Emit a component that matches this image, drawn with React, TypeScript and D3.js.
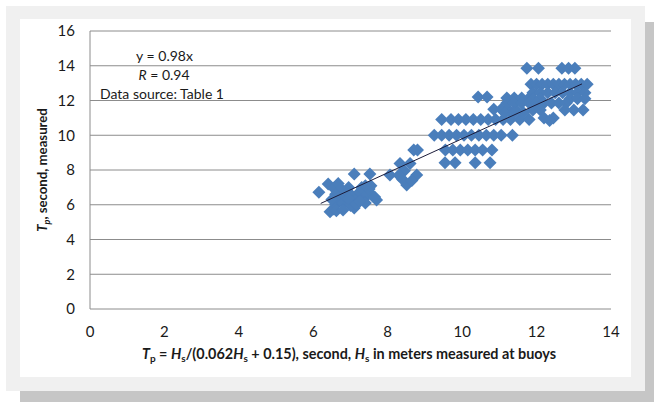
import React from "react";
import * as d3 from "d3";

const xTicks = [0, 2, 4, 6, 8, 10, 12, 14];
const yTicks = [0, 2, 4, 6, 8, 10, 12, 14, 16];

// lower cluster
const clusterA: [number, number][] = [
  [6.15, 6.72], [6.4, 7.2], [6.55, 6.95], [6.67, 7.23], [6.45, 5.6], [6.55, 5.75],
  [6.6, 6.0], [6.7, 6.3], [6.8, 6.1], [6.85, 6.5], [6.9, 6.8], [6.75, 6.9],
  [6.95, 7.0], [7.0, 6.6], [7.05, 6.2], [7.1, 5.81], [7.0, 5.95], [7.15, 6.05],
  [7.2, 6.4], [7.25, 6.75], [7.3, 7.0], [7.1, 7.77], [7.52, 7.77], [7.35, 6.3],
  [7.45, 6.6], [7.5, 6.9], [7.55, 7.1], [7.6, 6.5], [7.7, 6.27], [7.65, 6.45],
  [7.4, 6.1], [6.6, 6.6], [6.5, 6.3], [6.62, 5.65], [6.8, 5.7], [6.95, 6.35],
  [7.25, 6.2], [7.4, 7.1],
];

// cluster around 8-9 s
const clusterB: [number, number][] = [
  [8.06, 7.71], [8.33, 8.38], [8.45, 7.95], [8.51, 7.14], [8.6, 8.38],
  [8.7, 9.15], [8.8, 9.15], [8.78, 7.71], [8.3, 7.7], [8.4, 7.45], [8.65, 7.4],
];

// middle rows
const clusterC: [number, number][] = [
  [9.54, 8.42], [9.81, 8.42], [10.35, 8.42], [10.75, 8.42],
  [9.55, 9.15], [9.75, 9.15], [9.95, 9.15], [10.15, 9.15], [10.35, 9.15], [10.55, 9.15], [10.8, 9.15],
  [9.25, 10.0], [9.45, 10.0], [9.65, 10.0], [9.85, 10.0], [10.05, 10.0], [10.25, 10.0],
  [10.45, 10.0], [10.65, 10.0], [10.85, 10.0], [11.05, 10.0], [11.35, 10.0],
  [9.45, 10.9], [9.7, 10.9], [9.9, 10.9], [10.1, 10.9], [10.3, 10.9], [10.5, 10.9],
  [10.7, 10.9], [10.9, 10.9], [11.1, 10.9], [11.3, 10.9], [11.55, 10.9], [11.8, 10.9],
  [10.85, 11.5], [11.05, 11.5], [11.25, 11.45], [11.45, 11.45],
  [10.43, 12.2], [10.67, 12.2], [11.2, 12.15], [11.4, 12.15], [11.6, 12.15], [11.8, 12.15],
];

// upper cluster
const clusterD: [number, number][] = [
  [11.74, 13.85], [12.05, 13.85], [12.68, 13.85], [12.86, 13.85], [13.03, 13.85],
  [11.85, 12.93], [12.0, 12.93], [12.15, 12.93], [12.3, 12.93], [12.45, 12.93], [12.6, 12.93],
  [12.75, 12.93], [12.9, 12.93], [13.05, 12.93], [13.2, 12.93], [13.36, 12.93],
  [11.9, 12.45], [12.1, 12.45], [12.3, 12.45], [12.5, 12.45], [12.7, 12.45], [12.9, 12.45],
  [13.1, 12.45], [13.3, 12.45],
  [11.9, 12.1], [12.1, 12.1], [12.9, 12.1], [13.1, 12.1], [13.3, 12.1],
  [11.2, 11.85], [11.4, 11.85], [11.6, 11.85], [11.8, 11.85], [12.0, 11.85], [12.2, 11.85],
  [12.4, 11.85], [12.6, 11.85], [12.8, 11.85],
  [11.9, 11.45], [12.1, 11.45], [12.76, 11.45], [13.0, 11.45], [13.25, 11.45],
  [11.15, 11.3], [11.4, 11.3], [11.65, 11.3],
  [12.2, 11.0], [12.45, 11.0], [12.35, 10.85],
];

const trendSlope = 0.98;
const trendRange = [6.2, 13.22];

const FONT = "Lato, 'Open Sans', sans-serif";

export default function App() {
  const W = 654, H = 402;
  const x = d3.scaleLinear().domain([0, 14]).range([90, 611]);
  const y = d3.scaleLinear().domain([0, 16]).range([309, 31]);
  const all = [...clusterA, ...clusterB, ...clusterC, ...clusterD];
  const r = 6.5;
  const diamond = (cx: number, cy: number) =>
    `M${cx},${cy - r}L${cx + r},${cy}L${cx},${cy + r}L${cx - r},${cy}Z`;
  const line = d3
    .line<number>()
    .x((d) => x(d))
    .y((d) => y(d * trendSlope));

  return (
    <svg
      width={W}
      height={H}
      style={{ position: "absolute", left: 0, top: 0, display: "block" }}
      fontFamily={FONT}
    >
      <rect x={0} y={0} width={W} height={H} fill="#ffffff" />
      {/* shadow */}
      <rect x={645} y={22} width={9} height={380} fill="#c6c6c6" />
      <rect x={20} y={391} width={634} height={11} fill="#c6c6c6" />
      {/* frame */}
      <rect x={6} y={6} width={639} height={385} fill="#f0f0f0" />
      <rect x={20} y={19} width={611} height={358} fill="#ffffff" />

      {/* gridlines */}
      {yTicks.map((t) => (
        <line key={t} x1={x(0)} x2={x(14)} y1={y(t)} y2={y(t)} stroke="#8c8c8c" strokeWidth={1} />
      ))}
      <line x1={x(0)} x2={x(0)} y1={y(16)} y2={y(0)} stroke="#8c8c8c" strokeWidth={1} />

      {/* y tick labels */}
      {yTicks.map((t) => (
        <text key={t} x={75} y={y(t)} dy="0.36em" textAnchor="end" fontSize={15} fill="#1a1a1a">
          {t}
        </text>
      ))}
      {/* x tick labels */}
      {xTicks.map((t) => (
        <text key={t} x={x(t)} y={337} textAnchor="middle" fontSize={15} fill="#1a1a1a">
          {t}
        </text>
      ))}

      {/* points */}
      {all.map((d, i) => (
        <path key={i} d={diamond(x(d[0]), y(d[1]))} fill="#4a7ebb" />
      ))}

      {/* trend line */}
      <path d={line(trendRange) || ""} fill="none" stroke="#1c1c3a" strokeWidth={1} />

      {/* annotations */}
      <text x={164.5} y={61} textAnchor="middle" fontSize={14} fill="#1a1a1a">y = 0.98x</text>
      <text x={164} y={80} textAnchor="middle" fontSize={14} fill="#1a1a1a">
        <tspan fontStyle="italic">R</tspan> = 0.94
      </text>
      <text x={100} y={99} fontSize={14} fill="#1a1a1a">Data source: Table 1</text>

      {/* x axis title */}
      <text x={349} y={359} textAnchor="middle" fontSize={14.4} fontWeight="bold" fill="#1a1a1a">
        <tspan fontStyle="italic">T</tspan>
        <tspan fontSize={10} dy={3}>p</tspan>
        <tspan dy={-3}> = </tspan>
        <tspan fontStyle="italic">H</tspan>
        <tspan fontSize={10} dy={3}>s</tspan>
        <tspan dy={-3}>/(0.062</tspan>
        <tspan fontStyle="italic">H</tspan>
        <tspan fontSize={10} dy={3}>s</tspan>
        <tspan dy={-3}> + 0.15), second, </tspan>
        <tspan fontStyle="italic">H</tspan>
        <tspan fontSize={10} dy={3}>s</tspan>
        <tspan dy={-3}> in meters measured at buoys</tspan>
      </text>

      {/* y axis title */}
      <text
        transform="translate(47,170) rotate(-90)"
        textAnchor="middle"
        fontSize={13.2}
        fontWeight="bold"
        fill="#1a1a1a"
      >
        <tspan fontStyle="italic">T</tspan>
        <tspan fontStyle="italic" fontSize={9} dy={3}>p</tspan>
        <tspan dy={-3}>, second, measured</tspan>
      </text>
    </svg>
  );
}
